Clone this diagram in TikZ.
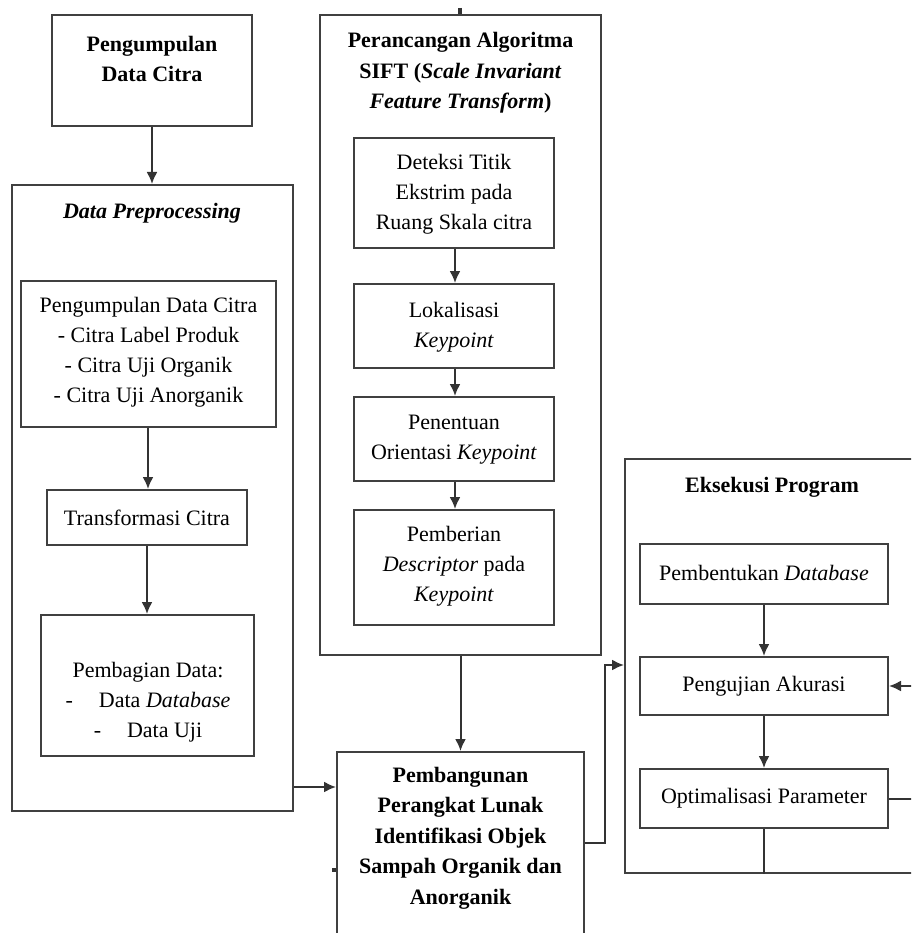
\documentclass[tikz,border=0pt]{standalone}
\usepackage{fontspec}
\setmainfont{Liberation Serif}
\usetikzlibrary{arrows.meta}
\begin{document}
\begin{tikzpicture}[x=1pt,y=-1pt,
  bx/.style={draw=black!75, line width=2pt, inner sep=0pt, rectangle},
  txt/.style={align=center, inner sep=0pt, font=\fontsize{22}{30}\selectfont},
  btxt/.style={align=center, inner sep=0pt, font=\bfseries\fontsize{22}{30.5}\selectfont},
  arr/.style={-{Latex[length=12pt,width=11pt]}, line width=2pt, draw=black!80},
  ln/.style={line width=2pt, draw=black!80}]
\useasboundingbox (0,0) rectangle (911,933);
\clip (0,0) rectangle (911,933);
\fill[white] (0,0) rectangle (911,933);

% Pengumpulan Data Citra
\node[bx, minimum width=200pt, minimum height=111pt] (A) at (152,70.5) {};
\node[btxt] (At) at (152,59) {Pengumpulan\\Data Citra};

% Data Preprocessing container
\node[bx, minimum width=281pt, minimum height=626pt] (DP) at (152.5,498) {};
\node[btxt, font=\bfseries\itshape\fontsize{22}{30}\selectfont] (DPt) at (152,213) {Data Preprocessing};

\node[bx, minimum width=255pt, minimum height=146pt] (P1) at (148.5,354) {};
\node[txt] (P1t) at (148.5,352) {Pengumpulan Data Citra\\- Citra Label Produk\\- Citra Uji Organik\\- Citra Uji Anorganik};

\node[bx, minimum width=200pt, minimum height=55pt] (T) at (147,517.5) {};
\node[txt] (Tt) at (147,517.5) {Transformasi Citra};

\node[bx, minimum width=213pt, minimum height=141pt] (PB) at (147.5,685.5) {};
\node[txt] (PBt) at (148,702) {Pembagian Data:\\-\hspace{26pt}Data \textit{Database}\\-\hspace{26pt}Data Uji};

% SIFT container
\node[bx, minimum width=281pt, minimum height=640pt] (S) at (460.5,335) {};
\node[btxt] (St) at (460.5,73) {Perancangan Algoritma\\SIFT (\textit{Scale Invariant}\\\textit{Feature Transform})};

\node[bx, minimum width=200pt, minimum height=110pt] (D1) at (454,193) {};
\node[txt] (D1t) at (454,194) {Deteksi Titik\\Ekstrim pada\\Ruang Skala citra};
\node[bx, minimum width=200pt, minimum height=84pt] (D2) at (454,326) {};
\node[txt] (D2t) at (454,327) {Lokalisasi\\\textit{Keypoint}};
\node[bx, minimum width=200pt, minimum height=84pt] (D3) at (454,439) {};
\node[txt] (D3t) at (454,440) {Penentuan\\Orientasi \textit{Keypoint}};
\node[bx, minimum width=200pt, minimum height=115pt] (D4) at (454,567.5) {};
\node[txt] (D4t) at (454,566) {Pemberian\\\textit{Descriptor} pada\\\textit{Keypoint}};

% Pembangunan
\node[bx, minimum width=247pt, minimum height=220pt, anchor=north] (PL) at (460.5,751) {};
\node[btxt] (PLt) at (460.5,838) {Pembangunan\\Perangkat Lunak\\Identifikasi Objek\\Sampah Organik dan\\Anorganik};

% Eksekusi container
\node[bx, minimum width=306pt, minimum height=414pt, anchor=north west] (E) at (624,458) {};
\node[btxt] (Et) at (772,487) {Eksekusi Program};
\node[bx, minimum width=248pt, minimum height=60pt] (E1) at (764,574) {};
\node[txt] (E1t) at (764,573) {Pembentukan \textit{Database}};
\node[bx, minimum width=248pt, minimum height=58pt] (E2) at (764,686) {};
\node[txt] (E2t) at (764,686) {Pengujian Akurasi};
\node[bx, minimum width=248pt, minimum height=59pt] (E3) at (764,798.5) {};
\node[txt] (E3t) at (764,798.5) {Optimalisasi Parameter};

% connectors
\draw[arr] (A.south) -- (DP.north -| A.south);
\draw[arr] (P1.south -| 148,0) -- (T.north -| 148,0);
\draw[arr] (T.south) -- (PB.north -| T.south);
\draw[arr] (D1.south -| 455,0) -- (D2.north -| 455,0);
\draw[arr] (D2.south -| 455,0) -- (D3.north -| 455,0);
\draw[arr] (D3.south -| 455,0) -- (D4.north -| 455,0);
\draw[arr] (S.south) -- (PL.north);
\draw[arr] (DP.east |- 0,787) -- (PL.west |- 0,787);
\draw[arr] (PL.east |- 0,843) -- (605,843) |- (E.west |- 0,665);
\draw[arr] (E1.south) -- (E2.north);
\draw[arr] (E2.south) -- (E3.north);
\draw[ln] (E3.south) -- (E.south -| E3.south);
\draw[arr] (E3.east) -- (930,798.5) |- (E2.east);

% small stubs
\coordinate (tt) at (460,8);
\draw[line width=3.5pt, draw=black!80] (tt) -- (S.north -| tt);
\coordinate (lt) at (332,870);
\draw[line width=3.5pt, draw=black!80] (lt) -- (PL.west |- lt);
\end{tikzpicture}
\end{document}
